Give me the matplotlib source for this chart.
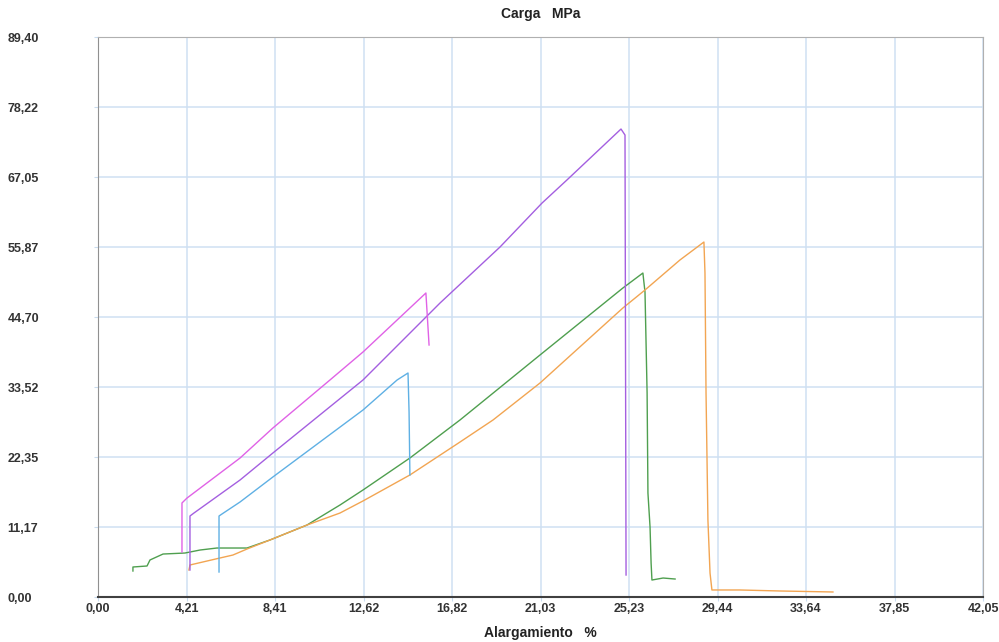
import matplotlib
matplotlib.use("Agg")
import matplotlib.pyplot as plt

plt.rcParams['font.family'] = ['Liberation Sans Narrow', 'Liberation Sans', 'DejaVu Sans']

# curvas (alargamiento %, carga MPa)
magenta_x = [3.99, 3.99, 4.23, 6.75, 8.31, 11.02, 12.59, 15.58, 15.73]
magenta_y = [7.18, 15.01, 15.80, 22.19, 26.98, 34.64, 39.11, 48.53, 40.23]

purple_x = [4.37, 4.37, 4.56, 6.75, 8.31, 12.59, 16.25, 19.10, 21.10, 22.28, 24.85, 25.04, 25.09]
purple_y = [4.31, 12.93, 13.41, 18.68, 22.99, 34.64, 46.93, 55.87, 62.90, 66.57, 74.71, 73.75, 3.51]

blue_x = [5.75, 5.75, 5.89, 6.75, 8.31, 12.59, 14.21, 14.73, 14.78, 14.82]
blue_y = [3.99, 12.93, 13.25, 15.17, 19.16, 29.85, 34.64, 35.76, 29.53, 19.48]

green_x = [1.66, 1.66, 2.33, 2.47, 3.09, 4.13, 4.85, 5.65, 7.08, 8.17, 9.93, 11.50, 12.59,
           14.82, 17.20, 21.00, 24.94, 25.89, 25.99, 26.09, 26.13, 26.23, 26.28, 26.32,
           26.85, 27.42]
green_y = [4.15, 4.79, 4.95, 5.91, 6.86, 7.02, 7.50, 7.82, 7.82, 9.10, 11.49, 14.69, 17.08,
           22.19, 28.26, 38.63, 49.33, 51.72, 48.69, 32.57, 16.60, 11.17, 5.43, 2.71,
           3.03, 2.87]

orange_x = [4.32, 4.37, 5.80, 6.41, 7.08, 8.17, 9.93, 11.50, 12.59, 14.82, 17.20, 18.77,
            21.00, 24.94, 25.99, 27.65, 28.79, 28.84, 28.89, 28.98, 29.08, 29.17, 30.50,
            32.40, 34.92]
orange_y = [4.31, 5.11, 6.23, 6.70, 7.66, 9.10, 11.49, 13.41, 15.33, 19.48, 24.74, 28.26,
            34.16, 46.14, 49.01, 53.80, 56.67, 51.72, 32.57, 12.29, 3.83, 1.12, 1.12,
            0.96, 0.80]

x_ticks = [0.00, 4.21, 8.41, 12.62, 16.82, 21.03, 25.23, 29.44, 33.64, 37.85, 42.05]
y_ticks = [0.00, 11.17, 22.35, 33.52, 44.70, 55.87, 67.05, 78.22, 89.40]

fig = plt.figure(figsize=(9.99, 6.42), dpi=100)
ax = fig.add_axes([98/999, 1-597/642, 885/999, 560/642])

ax.plot(green_x, green_y, color='#4f9f4f', lw=1)
ax.plot(orange_x, orange_y, color='#f2a552', lw=1)
ax.plot(blue_x, blue_y, color='#5fb0e4', lw=1)
ax.plot(purple_x, purple_y, color='#a45fe0', lw=1)
ax.plot(magenta_x, magenta_y, color='#e062e6', lw=1)

ax.set_xlim(0, 42.05)
ax.set_ylim(0, 89.40)
ax.set_xticks(x_ticks)
ax.set_yticks(y_ticks)
ax.set_xticklabels([('%.2f' % v).replace('.', ',') for v in x_ticks])
ax.set_yticklabels([('%.2f' % v).replace('.', ',') for v in y_ticks])
ax.grid(True, color='#cfe0f2', lw=1.1)
ax.set_axisbelow(True)

ax.tick_params(axis='both', length=3, color='#c9dcf0', labelsize=9, labelcolor='#333333')
ax.tick_params(axis='y', pad=62)
ax.tick_params(axis='x', pad=1)
for lab in ax.get_yticklabels():
    lab.set_horizontalalignment('left')
    lab.set_fontweight('bold')
for lab in ax.get_xticklabels():
    lab.set_fontweight('bold')

ax.spines['bottom'].set_color('#404040')
ax.spines['bottom'].set_linewidth(1.5)
ax.spines['left'].set_color('#909090')
ax.spines['top'].set_color('#b0b0b0')
ax.spines['right'].set_color('#b0b0b0')

ax.set_title('Carga   MPa', fontsize=10, fontweight='bold', color='#222222', pad=14)
ax.set_xlabel('Alargamiento   %', fontsize=10, fontweight='bold', color='#222222', labelpad=8)

fig.savefig('out.png', dpi=100)
